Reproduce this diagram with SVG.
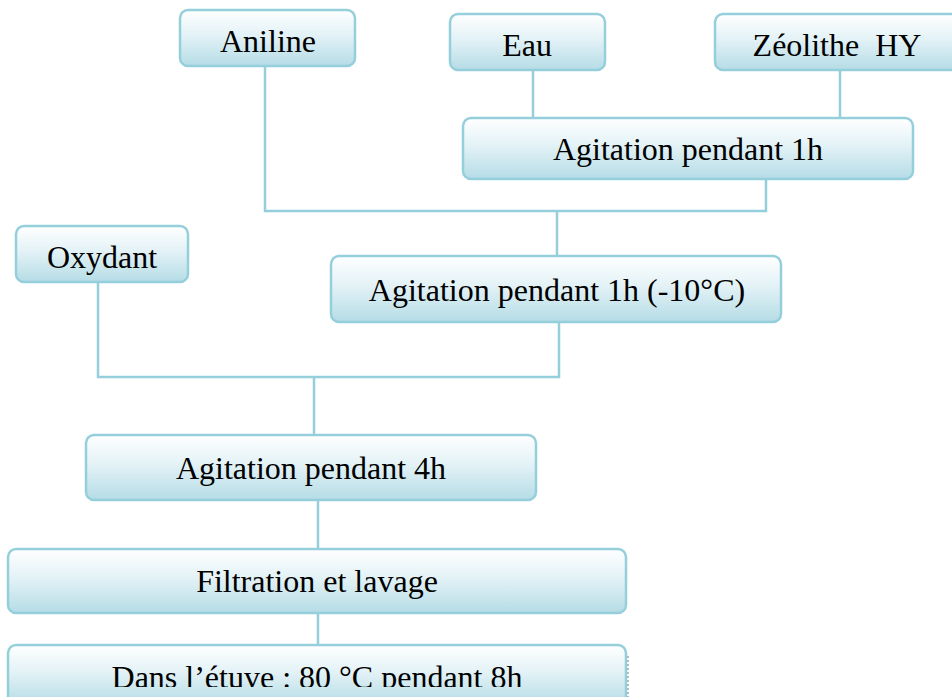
<svg xmlns="http://www.w3.org/2000/svg" width="952" height="697" viewBox="0 0 952 697">
<defs>
<linearGradient id="g" x1="0" y1="0" x2="0" y2="1">
<stop offset="0" stop-color="#ffffff"/>
<stop offset="0.45" stop-color="#e3f2f6"/>
<stop offset="1" stop-color="#b5dce6"/>
</linearGradient>
<clipPath id="clipLast"><rect x="0" y="0" width="952" height="687"/></clipPath>
</defs>
<style>
.box{fill:url(#g);stroke:#95cfdc;stroke-width:2.5}
.t{font-family:"Liberation Serif","Times New Roman",serif;font-size:32px;fill:#000;text-anchor:middle}
.c{fill:none;stroke:#95cfdc;stroke-width:2.5}
</style>
<rect width="952" height="697" fill="#ffffff"/>
<g id="connectors">
<polyline class="c" points="265,66 265,211 766,211 766,179"/>
<line class="c" x1="533" y1="70" x2="533" y2="118"/>
<line class="c" x1="840" y1="70" x2="840" y2="118"/>
<line class="c" x1="557" y1="211" x2="557" y2="256"/>
<polyline class="c" points="98,282 98,377 559,377 559,322"/>
<line class="c" x1="314" y1="377" x2="314" y2="435"/>
<line class="c" x1="318" y1="500" x2="318" y2="549"/>
<line class="c" x1="318" y1="613" x2="318" y2="645"/>
</g>
<g id="aniline"><rect class="box" x="180" y="10" width="175" height="56" rx="8"/><text class="t" x="268" y="52">Aniline</text></g>
<g id="eau"><rect class="box" x="450" y="14" width="155" height="56" rx="8"/><text class="t" x="527" y="56">Eau</text></g>
<g id="zeolithe"><rect class="box" x="715" y="14" width="260" height="56" rx="8"/><text class="t" x="837" y="56" xml:space="preserve">Zéolithe  HY</text></g>
<g id="agit1h"><rect class="box" x="463" y="118" width="450" height="61" rx="8"/><text class="t" x="688" y="160">Agitation pendant 1h</text></g>
<g id="oxydant"><rect class="box" x="16" y="226" width="172" height="56" rx="8"/><text class="t" x="102" y="268">Oxydant</text></g>
<g id="agit1h10"><rect class="box" x="331" y="256" width="450" height="66" rx="8"/><text class="t" x="557" y="301">Agitation pendant 1h (-10°C)</text></g>
<g id="agit4h"><rect class="box" x="86" y="435" width="450" height="65" rx="8"/><text class="t" x="311" y="479">Agitation pendant 4h</text></g>
<g id="filtration"><rect class="box" x="8" y="549" width="618" height="64" rx="8"/><text class="t" x="317" y="592">Filtration et lavage</text></g>
<g id="etuve"><rect class="box" x="8" y="645" width="618" height="60" rx="8"/><text class="t" x="317" y="688" clip-path="url(#clipLast)">Dans l’étuve : 80 °C pendant 8h</text><line x1="628" y1="656" x2="628" y2="697" stroke="#9aa8ad" stroke-width="1.5" stroke-dasharray="2,2"/></g>
</svg>
